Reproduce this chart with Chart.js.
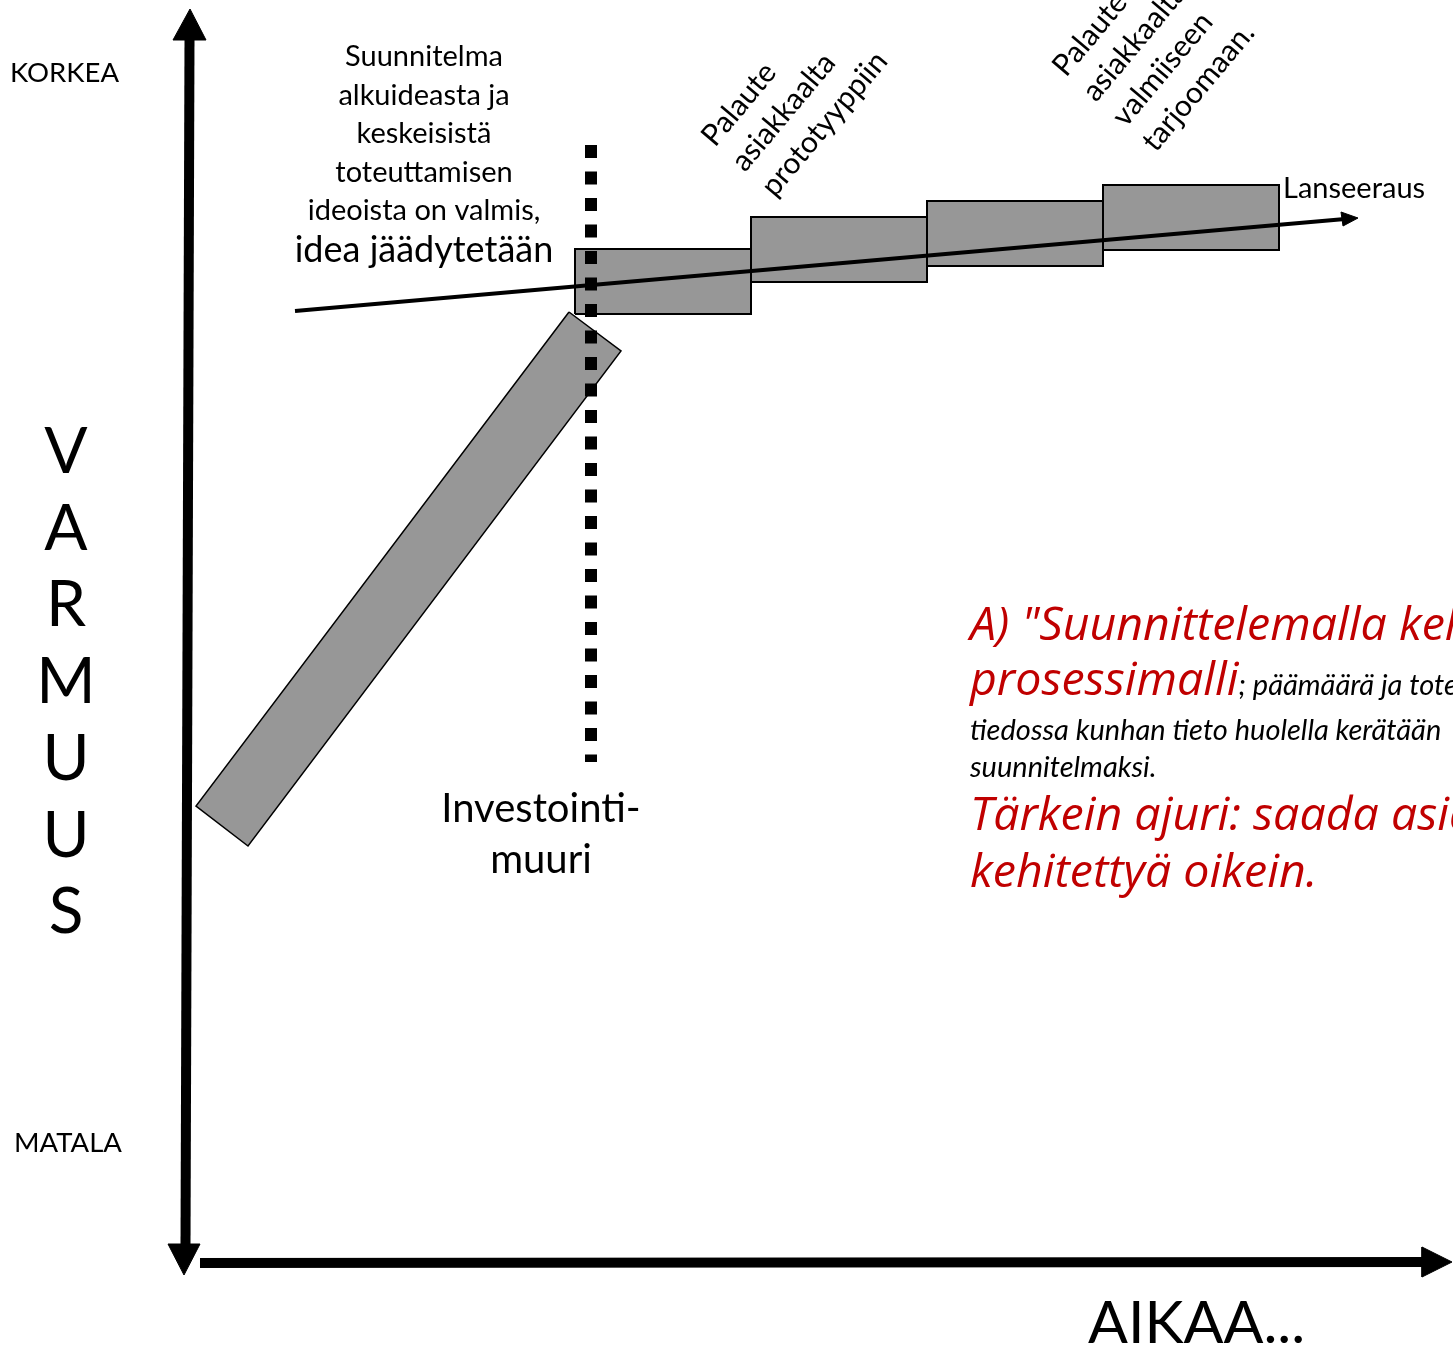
<!DOCTYPE html>
<html>
<head>
<meta charset="utf-8">
<script src="https://cdn.jsdelivr.net/npm/chart.js@4.4.0/dist/chart.umd.min.js"></script>
<style>
  html, body { margin: 0; padding: 0; background: #fff; }
  #wrap { width: 1453px; height: 1347px; }
</style>
</head>
<body>
<div id="wrap"><canvas id="diagram"></canvas></div>
<script>
// Diagram units: x = aika, y = varmuus (origin where the two axes meet)

// the four stages after the investment wall
const stageStart = [39.0, 56.6, 74.2, 91.8];
const stageEnd   = [56.6, 74.2, 91.8, 109.4];
const stageLow   = [94.8, 98.0, 99.6, 101.2];
const stageHigh  = [101.3, 104.5, 106.1, 107.7];

// the tilted planning bar before the wall (corners)
const rampX = [38.4, 43.6, 6.3, 1.1];
const rampY = [95.0, 91.1, 41.6, 45.6];

// trend arrow towards launch
const trendX = [11.0, 116.0];
const trendY = [95.1, 104.3];
const trendHeadX = [117.3, 115.8, 115.6];
const trendHeadY = [104.4, 103.6, 105.0];

// investment wall
const wallX = [40.6, 40.6];
const wallY = [111.7, 50.0];

// axes
const yAxisX = [0.45, 0.05];
const yAxisY = [122.4, 1.6];
const yHeadTopX = [0.5, -1.2, 2.1];
const yHeadTopY = [125.3, 122.2, 122.2];
const yHeadBottomX = [-0.1, -1.7, 1.5];
const yHeadBottomY = [-1.3, 1.8, 1.8];
const xAxisX = [1.5, 124.0];
const xAxisY = [-0.1, 0.0];
const xHeadX = [126.7, 123.7, 123.7];
const xHeadY = [0.0, 1.5, -1.5];

// texts
const yHigh = 'KORKEA';
const yLow = 'MATALA';
const yTitle = 'VARMUUS';
const xTitle = 'AIKAA...';
const planLines = ['Suunnitelma', 'alkuideasta ja', 'keskeisistä', 'toteuttamisen', 'ideoista on valmis,'];
const planLast = 'idea jäädytetään';
const wallLabel = ['Investointi-', 'muuri'];
const feedbackProto = ['Palaute', 'asiakkaalta', 'prototyyppiin'];
const feedbackFinal = ['Palaute', 'asiakkaalta', 'valmiiseen', 'tarjoomaan.'];
const launchLabel = 'Lanseeraus';
const modelTitle = ['A) "Suunnittelemalla kehittäminen"', 'prosessimalli'];
const modelNote = ['; päämäärä ja toteutustapa', 'tiedossa kunhan tieto huolella kerätään', 'suunnitelmaksi.'];
const modelDriver = ['Tärkein ajuri: saada asiat', 'kehitettyä oikein.'];

const GRAY = '#979797';
const RED = '#c00000';

function pts(xs, ys, close) {
    const p = xs.map((v, i) => ({x: v, y: ys[i]}));
    if (close) p.push({x: xs[0], y: ys[0]});
    return p;
}

function shape(xs, ys, fillColor, lineWidth, order) {
    return {
        data: pts(xs, ys, true),
        showLine: true,
        fill: 'shape',
        backgroundColor: fillColor,
        borderColor: '#000',
        borderWidth: lineWidth,
        borderJoinStyle: 'miter',
        pointRadius: 0,
        order: order
    };
}

function stroke(xs, ys, width, order, dash) {
    return {
        data: pts(xs, ys, false),
        showLine: true,
        fill: false,
        borderColor: '#000',
        borderWidth: width,
        borderDash: dash || [],
        borderCapStyle: 'butt',
        pointRadius: 0,
        order: order
    };
}

const datasets = [];
stageStart.forEach((s, i) => {
    datasets.push(shape([s, stageEnd[i], stageEnd[i], s], [stageLow[i], stageLow[i], stageHigh[i], stageHigh[i]], GRAY, 2, 6));
});
datasets.push(shape(rampX, rampY, GRAY, 1.5, 5));
datasets.push(stroke(trendX, trendY, 4, 4));
datasets.push(shape(trendHeadX, trendHeadY, '#000', 1, 4));
datasets.push(stroke(yAxisX, yAxisY, 10, 3));
datasets.push(shape(yHeadTopX, yHeadTopY, '#000', 1, 3));
datasets.push(shape(yHeadBottomX, yHeadBottomY, '#000', 1, 3));
datasets.push(stroke(xAxisX, xAxisY, 10, 3));
datasets.push(shape(xHeadX, xHeadY, '#000', 1, 3));
datasets.push(stroke(wallX, wallY, 12, 1, [13, 13.5]));

const textPlugin = {
    id: 'diagramText',
    afterDatasetsDraw(chart) {
        const ctx = chart.ctx;
        const X = v => chart.scales.x.getPixelForValue(v);
        const Y = v => chart.scales.y.getPixelForValue(v);
        ctx.save();
        ctx.fillStyle = '#000';
        ctx.textBaseline = 'alphabetic';

        // axis end labels
        ctx.font = '27.5px Lato';
        ctx.textAlign = 'left';
        ctx.fillText(yHigh, X(-17.5), Y(118.0));
        ctx.fillText(yLow, X(-17.1), Y(11.0));

        // vertical title, one letter per row
        ctx.font = '64px Lato';
        ctx.textAlign = 'center';
        yTitle.split('').forEach((ch, i) => {
            ctx.fillText(ch, X(-11.9), Y(78.9 - i * 7.67));
        });
        ctx.font = '59px Lato';
        ctx.textAlign = 'left';
        ctx.fillText(xTitle, X(90.3), Y(-8.1));

        // plan text
        ctx.textAlign = 'center';
        ctx.font = '29px Lato';
        planLines.forEach((t, i) => {
            ctx.fillText(t, X(23.9), Y(119.6 - i * 3.86));
        });
        ctx.font = '36px Lato';
        ctx.fillText(planLast, X(23.9), Y(100.0));

        // wall label
        ctx.font = '40px Lato';
        wallLabel.forEach((t, i) => {
            ctx.fillText(t, X(35.6), Y(44.0 - i * 5.1));
        });

        // launch
        ctx.textAlign = 'left';
        ctx.font = '29px Lato';
        ctx.fillText(launchLabel, X(109.8), Y(106.4));

        // rotated feedback notes
        const rotated = (lines, x0, y0) => {
            ctx.save();
            ctx.translate(X(x0), Y(y0));
            ctx.rotate(-50 * Math.PI / 180);
            ctx.font = '30px Lato';
            ctx.textAlign = 'left';
            lines.forEach((t, i) => ctx.fillText(t, 0, i * 39));
            ctx.restore();
        };
        rotated(feedbackProto, 53.0, 111.4);
        rotated(feedbackFinal, 88.1, 118.4);

        // model description
        const left = X(78.5);
        ctx.textAlign = 'left';
        ctx.fillStyle = RED;
        ctx.font = 'italic 46.5px "Open Sans"';
        ctx.fillText(modelTitle[0], left, Y(62.2));
        ctx.fillText(modelTitle[1], left, Y(56.7));
        const w = ctx.measureText(modelTitle[1]).width;
        ctx.fillStyle = '#000';
        ctx.font = 'italic 29px Lato';
        ctx.fillText(modelNote[0], left + w, Y(56.7));
        ctx.fillText(modelNote[1], left, Y(52.2));
        ctx.fillText(modelNote[2], left, Y(48.5));
        ctx.fillStyle = RED;
        ctx.font = 'italic 46.5px "Open Sans"';
        ctx.fillText(modelDriver[0], left, Y(43.2));
        ctx.fillText(modelDriver[1], left, Y(37.5));
        ctx.restore();
    }
};

new Chart(document.getElementById('diagram').getContext('2d'), {
    type: 'scatter',
    data: {datasets: datasets},
    options: {
        responsive: true,
        maintainAspectRatio: false,
        animation: false,
        devicePixelRatio: 1,
        layout: {padding: 0},
        plugins: {legend: {display: false}, tooltip: {enabled: false}},
        scales: {
            x: {type: 'linear', min: -18.5, max: 126.8, display: false},
            y: {type: 'linear', min: -8.5, max: 126.2, display: false}
        }
    },
    plugins: [textPlugin]
});
</script>
</body>
</html>
